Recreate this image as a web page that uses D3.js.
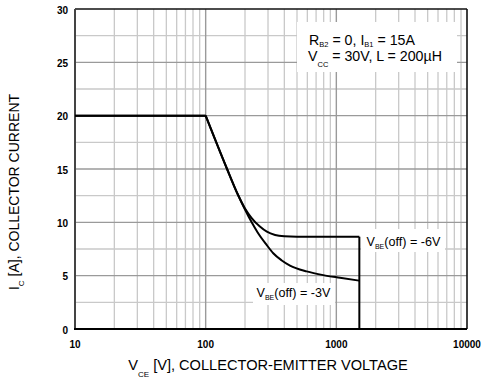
<!DOCTYPE html>
<html>
<head>
<meta charset="utf-8">
<script src="https://cdn.jsdelivr.net/npm/d3@7"></script>
<style>
  body { margin: 0; background: #fff; }
  svg { display: block; font-family: "Liberation Sans", Arial, Helvetica, sans-serif; }
</style>
</head>
<body>
<svg id="chart" width="482" height="380"></svg>
<script>
// Axis ticks
const xTickValues = [10, 100, 1000, 10000];
const yTickValues = [0, 5, 10, 15, 20, 25, 30];

// Reverse-bias safe operating area, VBE(off) = -6 V (ends with the 1500 V limit drop)
const vceOffMinus6 = [10, 100, 145, 177, 200, 225, 260, 294, 340, 400, 500, 1500, 1500];
const icOffMinus6  = [20, 20, 15.07, 12.56, 11.3, 10.4, 9.6, 9.12, 8.82, 8.7, 8.66, 8.65, 0];

// Reverse-bias safe operating area, VBE(off) = -3 V
const vceOffMinus3 = [10, 100, 145, 177, 200, 225, 250, 290, 329, 380, 442, 593, 794, 1067, 1500];
const icOffMinus3  = [20, 20, 15.07, 12.56, 11.2, 10.0, 9.05, 7.95, 7.1, 6.45, 5.95, 5.4, 5.05, 4.8, 4.53];

// Text
const legendLines = [
  [["R", false], ["B2", true], [" = 0, I", false], ["B1", true], [" = 15A", false]],
  [["V", false], ["CC", true], [" = 30V, L = 200\u00B5H", false]]
];
const labelMinus6 = [["V", false], ["BE", true], ["(off) = -6V", false]];
const labelMinus3 = [["V", false], ["BE", true], ["(off) = -3V", false]];
const xTitle = [["V", false], ["CE", true], [" [V], COLLECTOR-EMITTER VOLTAGE", false]];
const yTitle = [["I", false], ["C", true], [" [A], COLLECTOR CURRENT", false]];

const svg = d3.select("#chart");
const plot = { left: 75, right: 467, top: 9, bottom: 329 };

const x = d3.scaleLog().domain([10, 10000]).range([plot.left, plot.right]);
const y = d3.scaleLinear().domain([0, 30]).range([plot.bottom, plot.top]);

// ---- grid ----
const grid = svg.append("g");
const minorX = [];
for (let dec = 10; dec < 10000; dec *= 10) {
  for (let k = 2; k <= 9; k++) minorX.push(dec * k);
}
grid.selectAll("line.mx").data(minorX).join("line")
  .attr("x1", d => x(d)).attr("x2", d => x(d))
  .attr("y1", plot.top).attr("y2", plot.bottom)
  .attr("stroke", "#c9c9c9").attr("stroke-width", 1.3);
const minorY = d3.range(2.5, 30, 5);
grid.selectAll("line.my").data(minorY).join("line")
  .attr("x1", plot.left).attr("x2", plot.right)
  .attr("y1", d => y(d)).attr("y2", d => y(d))
  .attr("stroke", "#c9c9c9").attr("stroke-width", 1.3);
grid.selectAll("line.MX").data([100, 1000]).join("line")
  .attr("x1", d => x(d)).attr("x2", d => x(d))
  .attr("y1", plot.top).attr("y2", plot.bottom)
  .attr("stroke", "#9a9a9a").attr("stroke-width", 1.4);
grid.selectAll("line.MY").data(yTickValues.filter(v => v > 0 && v < 30)).join("line")
  .attr("x1", plot.left).attr("x2", plot.right)
  .attr("y1", d => y(d)).attr("y2", d => y(d))
  .attr("stroke", "#9a9a9a").attr("stroke-width", 1.4);

// ---- rich text helper (subscripts) ----
function richText(parent, parts, opts) {
  const t = parent.append("text")
    .attr("x", opts.x || 0).attr("y", opts.y || 0)
    .attr("font-size", opts.size)
    .attr("text-anchor", opts.anchor || "start")
    .attr("fill", "#000");
  if (opts.transform) t.attr("transform", opts.transform);
  let shift = 0;
  parts.forEach(([str, sub]) => {
    const s = t.append("tspan").text(str);
    if (sub) {
      s.attr("font-size", opts.subSize).attr("dy", opts.subDy - shift);
      shift = opts.subDy;
    } else {
      if (shift) s.attr("dy", -shift);
      shift = 0;
    }
  });
  return t;
}

// ---- legend box ----
const legend = svg.append("g");
legend.append("rect").attr("x", 297).attr("y", 22).attr("width", 160).attr("height", 50)
  .attr("fill", "#fff");
richText(legend, legendLines[0], { x: 309, y: 44.5, size: 14.2, subSize: 7.5, subDy: 2.3 });
richText(legend, legendLines[1], { x: 308, y: 60.5, size: 14.2, subSize: 7.5, subDy: 6 });

// ---- curve labels (white backing) ----
const labels = svg.append("g");
labels.append("rect").attr("x", 361).attr("y", 229).attr("width", 84).attr("height", 23).attr("fill", "#fff");
labels.append("rect").attr("x", 253).attr("y", 283).attr("width", 82).attr("height", 22).attr("fill", "#fff");
richText(labels, labelMinus6, { x: 366.5, y: 245.5, size: 12.6, subSize: 7, subDy: 3.3 });
richText(labels, labelMinus3, { x: 256.5, y: 296.5, size: 12.6, subSize: 7, subDy: 3.3 });

// ---- frame ----
const frame = svg.append("g").attr("fill", "none");
frame.append("line").attr("x1", plot.left).attr("x2", plot.right).attr("y1", plot.top).attr("y2", plot.top)
  .attr("stroke", "#111").attr("stroke-width", 1.6);
frame.append("line").attr("x1", plot.right).attr("x2", plot.right).attr("y1", plot.top).attr("y2", plot.bottom)
  .attr("stroke", "#111").attr("stroke-width", 1.6);
frame.append("line").attr("x1", plot.left).attr("x2", plot.left).attr("y1", plot.top).attr("y2", plot.bottom)
  .attr("stroke", "#444").attr("stroke-width", 2);
frame.append("line").attr("x1", plot.left - 1).attr("x2", plot.right).attr("y1", plot.bottom).attr("y2", plot.bottom)
  .attr("stroke", "#000").attr("stroke-width", 2);

// ---- curves ----
function drawSeries(vce, ic) {
  const pts = vce.map((v, i) => [v, ic[i]]);
  const linear = d3.line().x(d => x(d[0])).y(d => y(d[1]));
  const smooth = d3.line().x(d => x(d[0])).y(d => y(d[1])).curve(d3.curveMonotoneX);
  // flat entry up to the knee
  const head = pts.slice(0, 2);
  // falling section while voltage increases
  let end = 1;
  while (end + 1 < pts.length && pts[end + 1][0] > pts[end][0]) end++;
  const body = pts.slice(1, end + 1);
  const tail = pts.slice(end);
  const g = svg.append("g").attr("fill", "none").attr("stroke", "#000")
    .attr("stroke-width", 2).attr("stroke-linejoin", "round").attr("stroke-linecap", "butt");
  g.append("path").attr("d", linear(head));
  g.append("path").attr("d", smooth(body));
  if (tail.length > 1) g.append("path").attr("d", linear(tail));
}
drawSeries(vceOffMinus6, icOffMinus6);
drawSeries(vceOffMinus3, icOffMinus3);

// ---- tick labels ----
const ticks = svg.append("g").attr("font-size", 10).attr("font-weight", "bold").attr("fill", "#000");
ticks.selectAll("text.y").data(yTickValues).join("text")
  .attr("x", 68).attr("y", d => y(d) + 4.8).attr("text-anchor", "end").text(d => d);
ticks.selectAll("text.x").data(xTickValues).join("text")
  .attr("x", d => x(d)).attr("y", plot.bottom + 19).attr("text-anchor", "middle").text(d => d);

// ---- axis titles ----
richText(svg, xTitle, { x: 268, y: 370, size: 14.6, subSize: 8, subDy: 6.5, anchor: "middle" });
richText(svg, yTitle, { size: 14, subSize: 8, subDy: 4.5, anchor: "middle",
  transform: "translate(19,192) rotate(-90)" });
</script>
</body>
</html>
